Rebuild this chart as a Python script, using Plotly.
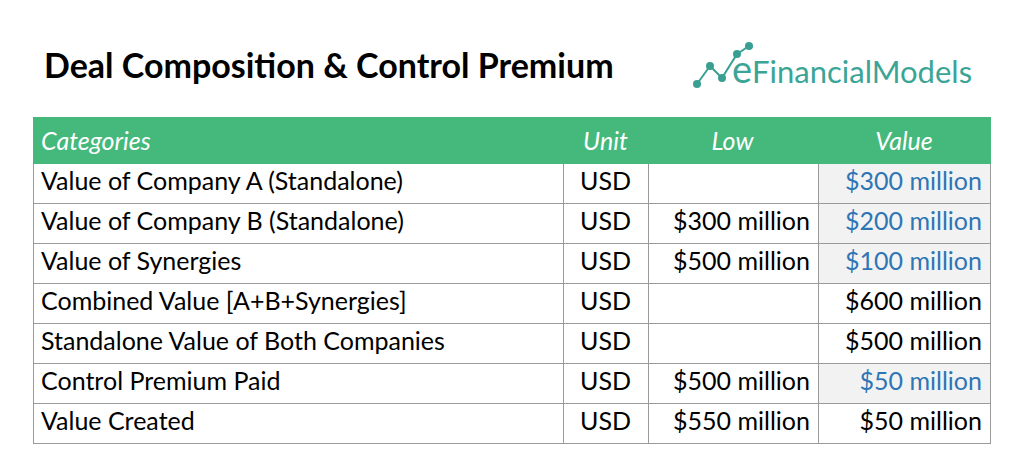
import plotly.graph_objects as go

headers = ["Categories", "Unit", "Low", "Value"]
categories = ["Value of Company A (Standalone)", "Value of Company B (Standalone)",
              "Value of Synergies", "Combined Value [A+B+Synergies]",
              "Standalone Value of Both Companies", "Control Premium Paid", "Value Created"]
units = ["USD"] * 7
low = ["", "$300 million", "$500 million", "", "", "$500 million", "$550 million"]
value = ["$300 million", "$200 million", "$100 million", "$600 million",
         "$500 million", "$50 million", "$50 million"]
is_input = [True, True, True, False, False, True, False]

BLUE = "#2e75b6"
val_fill = ["#f2f2f2" if b else "white" for b in is_input]
val_color = [BLUE if b else "black" for b in is_input]
FONT = "Lato, 'Open Sans', sans-serif"

fig = go.Figure(go.Table(
    domain=dict(x=[25/1024, 982/1024], y=[0, 1 - 109/474]),
    columnwidth=[530, 85, 170, 172],
    header=dict(values=[f"<i>{h}</i>" for h in headers],
                fill_color="#45b97c", line=dict(color="#45b97c", width=1),
                align=["left", "center", "center", "center"],
                font=dict(color="white", size=25, family=FONT), height=37),
    cells=dict(values=[categories, units, low, value],
               fill_color=[["white"] * 7, ["white"] * 7, ["white"] * 7, val_fill],
               line=dict(color="#9a9a9a", width=1),
               align=["left", "center", "right", "right"],
               font=dict(color=[["black"] * 7, ["black"] * 7, ["black"] * 7, val_color],
                         size=25, family=FONT),
               height=40)
))

fig.add_annotation(text="<b>Deal Composition & Control Premium</b>", xref="paper", yref="paper",
                   x=34/1024, y=1 - 57/474, xanchor="left", yanchor="middle", showarrow=False,
                   font=dict(size=34, family=FONT, color="black"))
fig.add_annotation(text="<span style='font-size:38px'>e</span>FinancialModels", xref="paper", yref="paper",
                   x=722/1024, y=1 - 60/474, xanchor="left", yanchor="middle", showarrow=False,
                   font=dict(size=31, family=FONT, color="#3aa597"))
# logo icon (decorative)
pts = [(689, 76), (702, 58), (714, 70), (729, 46), (741, 38)]
for (x0, y0), (x1, y1) in zip(pts[:-1], pts[1:]):
    fig.add_shape(type="line", xref="paper", yref="paper", x0=x0/1024, y0=1-y0/474,
                  x1=x1/1024, y1=1-y1/474, line=dict(color="#3a9f93", width=2))
for x, y in pts:
    fig.add_shape(type="circle", xref="paper", yref="paper", x0=(x-4)/1024, y0=1-(y+4)/474,
                  x1=(x+4)/1024, y1=1-(y-4)/474, fillcolor="#3a9f93", line=dict(width=0))

fig.update_layout(width=1024, height=474, margin=dict(l=0, r=0, t=0, b=0),
                  paper_bgcolor="white", plot_bgcolor="white")
fig.write_html("out.html")
